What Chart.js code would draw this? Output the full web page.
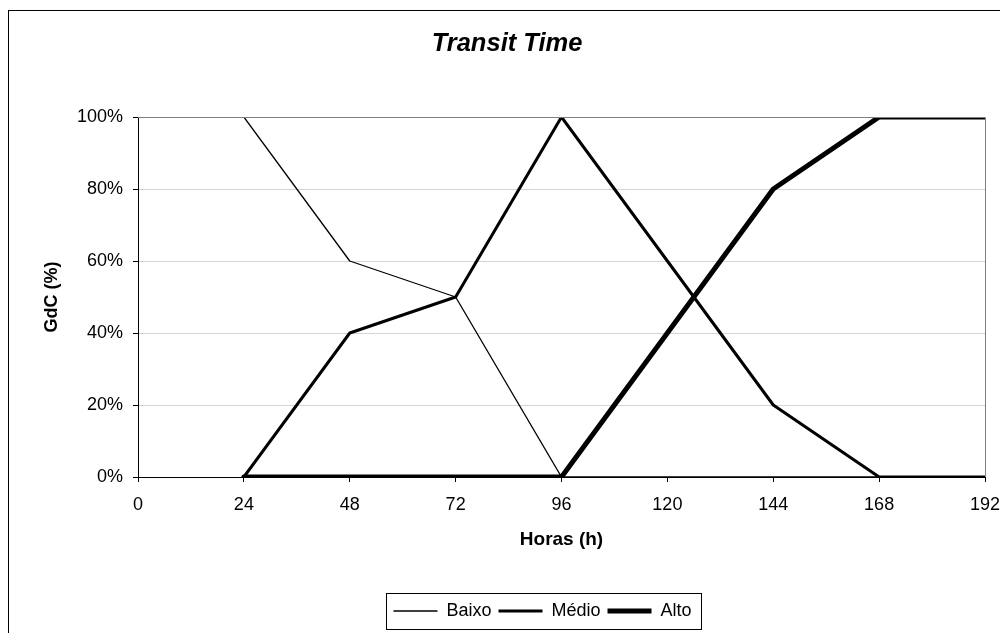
<!DOCTYPE html>
<html>
<head>
<meta charset="utf-8">
<script src="https://cdn.jsdelivr.net/npm/chart.js@4/dist/chart.umd.min.js"></script>
<style>
  html, body { margin: 0; padding: 0; background: #fff; }
  #wrap { position: relative; width: 1000px; height: 633px; }
</style>
</head>
<body>
<div id="wrap"><canvas id="chart" width="1000" height="633"></canvas></div>
<script>
// data
const hours = [24, 48, 72, 96, 120, 144, 168, 192];
const baixo = [100, 60, 50, 0, 0, 0, 0, 0];
const medio = [0, 40, 50, 100, 60, 20, 0, 0];
const alto = [0, 0, 0, 0, 40, 80, 100, 100];
const seriesNames = ['Baixo', 'Médio', 'Alto'];

const FONT = "'Liberation Sans', Arial, sans-serif";

const toPoints = (vals) => hours.map((h, i) => ({ x: h, y: vals[i] }));

// frame, plot border, legend box, and small position nudges
const excelLook = {
  id: 'excelLook',
  afterLayout(chart) {
    const lg = chart.legend;
    const shift = 542.5 - (lg.left + lg.right) / 2;
    lg.left += shift;
    lg.right += shift;
    const tb = chart.titleBlock;
    if (tb) {
      const ts = 507 - (tb.left + tb.right) / 2;
      tb.left += ts;
      tb.right += ts;
    }
  },
  beforeDraw(chart) {
    const ctx = chart.ctx;
    ctx.save();
    ctx.fillStyle = '#fff';
    ctx.fillRect(0, 0, chart.width, chart.height);
    ctx.strokeStyle = '#000';
    ctx.lineWidth = 1;
    ctx.strokeRect(8.5, 10.5, 1100, 1000); // outer chart frame, runs off the picture
    ctx.restore();
  },
  afterDatasetsDraw(chart) {
    const { ctx, chartArea: a } = chart;
    ctx.save();
    ctx.strokeStyle = '#808080';
    ctx.lineWidth = 1;
    ctx.beginPath();
    ctx.moveTo(a.left, a.top + 0.5);
    ctx.lineTo(a.right + 0.5, a.top + 0.5);
    ctx.lineTo(a.right + 0.5, a.bottom);
    ctx.stroke();
    ctx.restore();
  },
  afterDraw(chart) {
    const hb = chart.legend.legendHitBoxes;
    if (!hb || !hb.length) return;
    const first = hb[0], last = hb[hb.length - 1];
    const ctx = chart.ctx;
    ctx.save();
    ctx.strokeStyle = '#000';
    ctx.lineWidth = 1;
    const l = Math.round(first.left - 7) + 0.5;
    const r = Math.round(last.left + last.width + 9) + 0.5;
    const t = Math.round(first.top - 9) + 0.5;
    const b = Math.round(first.top + first.height + 9) + 0.5;
    ctx.strokeRect(l, t, r - l, b - t);
    ctx.restore();
  }
};

new Chart(document.getElementById('chart'), {
  type: 'line',
  data: {
    datasets: [
      { label: seriesNames[0], data: toPoints(baixo), borderWidth: 1.3 },
      { label: seriesNames[1], data: toPoints(medio), borderWidth: 3 },
      { label: seriesNames[2], data: toPoints(alto), borderWidth: 5 }
    ].map(d => Object.assign(d, {
      borderColor: '#000',
      backgroundColor: '#000',
      pointRadius: 0,
      fill: false,
      tension: 0,
      borderCapStyle: 'round',
      borderJoinStyle: 'round'
    }))
  },
  options: {
    responsive: false,
    animation: false,
    layout: { padding: { left: 0, right: 0, top: 0, bottom: 3 } },
    scales: {
      x: {
        type: 'linear',
        min: 0,
        max: 192,
        ticks: {
          stepSize: 24,
          color: '#000',
          padding: 12,
          maxRotation: 0,
          font: { family: FONT, size: 18 }
        },
        grid: {
          drawOnChartArea: false,
          drawTicks: true,
          tickLength: 5,
          tickColor: '#000'
        },
        border: { display: true, color: '#000', width: 1 },
        title: {
          display: true,
          text: 'Horas (h)',
          color: '#000',
          font: { family: FONT, size: 19, weight: 'bold' },
          padding: { top: 0, bottom: 43.6 }
        },
        afterFit(scale) {
          scale.height = 118;
          scale.paddingRight = 15; // plot area ends at x=985 like the reference
        }
      },
      y: {
        min: 0,
        max: 100,
        ticks: {
          stepSize: 20,
          color: '#000',
          padding: 10,
          font: { family: FONT, size: 18 },
          callback: (v) => v + '%'
        },
        grid: {
          color: '#d4d4d4',
          lineWidth: 1,
          drawTicks: true,
          tickLength: 5,
          tickColor: '#000'
        },
        border: { display: true, color: '#000', width: 1 },
        title: {
          display: true,
          text: 'GdC (%)',
          color: '#000',
          font: { family: FONT, size: 18, weight: 'bold' },
          padding: { top: 41, bottom: 0 }
        },
        afterFit(scale) { scale.width = 138; }
      }
    },
    plugins: {
      title: {
        display: true,
        text: 'Transit Time',
        color: '#000',
        font: { family: FONT, size: 25.5, weight: 'bold', style: 'italic' },
        padding: { top: 28.2, bottom: 58.2 }
      },
      legend: {
        display: true,
        position: 'bottom',
        align: 'center',
        labels: {
          usePointStyle: true,
          pointStyle: 'line',
          pointStyleWidth: 44,
          padding: 7,
          color: '#000',
          font: { family: FONT, size: 18 }
        }
      },
      tooltip: { enabled: false }
    }
  },
  plugins: [excelLook]
});
</script>
</body>
</html>
